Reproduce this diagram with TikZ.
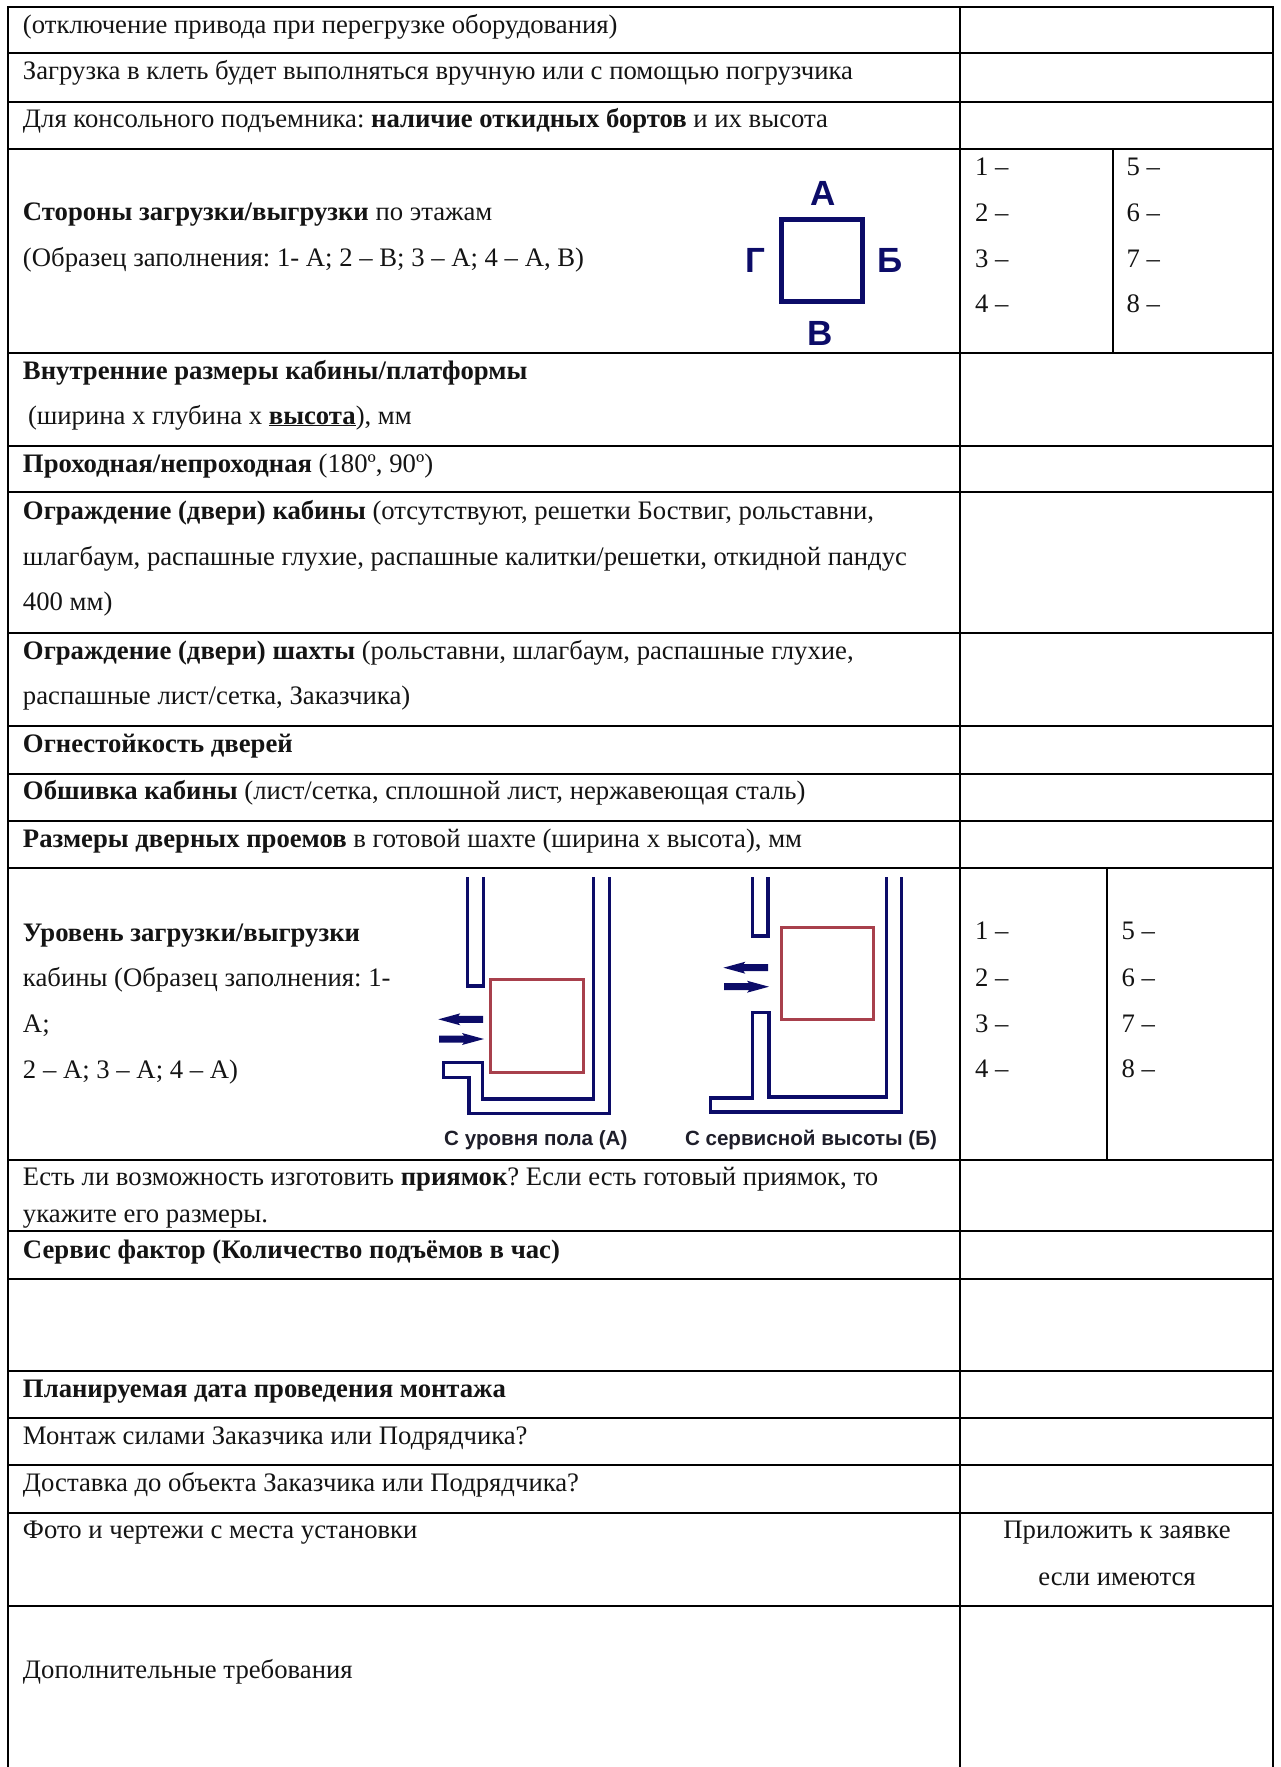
\documentclass[tikz,border=0pt]{standalone}
\usepackage{fontspec}
\setmainfont{Liberation Serif}
\newfontfamily\sansf{Liberation Sans}
\definecolor{navyline}{HTML}{0C0C68}
\definecolor{redline}{HTML}{A8404C}
\definecolor{capt}{HTML}{1E1E2A}
\tikzset{
  rule/.style={line width=2pt,line cap=rect,black},
  txt/.style={anchor=base west,yshift=-1pt,inner sep=0pt,outer sep=0pt,font=\fontsize{26.7}{27}\selectfont\frenchspacing,text=black!92},
  ctxt/.style={anchor=base,yshift=-1pt,inner sep=0pt,outer sep=0pt,font=\fontsize{26.7}{27}\selectfont\frenchspacing,text=black!92},
  sidelbl/.style={anchor=base,inner sep=0pt,outer sep=0pt,font=\sansf\bfseries\fontsize{35}{35}\selectfont,text=navyline},
  caplbl/.style={anchor=base,inner sep=0pt,outer sep=0pt,font=\sansf\bfseries\fontsize{20.6}{21}\selectfont,text=capt},
  wall/.style={line width=3.3pt,navyline,line join=miter},
  cabin/.style={line width=3.3pt,redline},
  square/.style={line width=5pt,navyline}
}
\newcommand{\larrow}[3]{% xleft xright y
  \fill[navyline] (#1,#3) -- (#1+22,#3-6) -- (#1+20,#3-3.5) -- (#2,#3-3.5) -- (#2,#3+3.5) -- (#1+20,#3+3.5) -- (#1+22,#3+6) -- cycle;}
\newcommand{\rarrow}[3]{%
  \fill[navyline] (#2,#3) -- (#2-22,#3-6) -- (#2-20,#3-3.5) -- (#1,#3-3.5) -- (#1,#3+3.5) -- (#2-20,#3+3.5) -- (#2-22,#3+6) -- cycle;}
\begin{document}
\begin{tikzpicture}[x=1pt,y=-1pt]
\useasboundingbox (0,0) rectangle (1281,1767);
% table rules
\foreach \yy in {7,53,102,148.5,353,445.7,492,633,726,773.5,821,867.6,1159.6,1231,1279,1371,1417.7,1465,1512.7,1605.7}
  \draw[rule] (8,\yy) -- (1273,\yy);
\draw[rule] (8,7) -- (8,1767);
\draw[rule] (960,7) -- (960,1767);
\draw[rule] (1273,7) -- (1273,1767);
\draw[rule] (1113,148.5) -- (1113,353);
\draw[rule] (1106.7,867.6) -- (1106.7,1159.6);
% left column text
\node[txt] (a1) at (23,32) {(отключение привода при перегрузке оборудования)};
\node[txt] (a2) at (23,78.5) {Загрузка в клеть будет выполняться вручную или с помощью погрузчика};
\node[txt] (a3) at (23,126.7) {Для консольного подъемника: \textbf{наличие откидных бортов} и их высота};
\node[txt] (a4) at (23,219) {\textbf{Стороны загрузки/выгрузки} по этажам};
\node[txt] (a5) at (23,265) {(Образец заполнения: 1- А; 2 – В; 3 – А; 4 – А, В)};
\node[txt] (a6) at (23,378) {\textbf{Внутренние размеры кабины/платформы}};
\node[txt] (a7) at (28,423) {(ширина х глубина х \underline{\textbf{высота}}), мм};
\node[txt] (a8) at (23,471) {\textbf{Проходная/непроходная} (180º, 90º)};
\node[txt] (a9) at (23,518.4) {\textbf{Ограждение (двери) кабины} (отсутствуют, решетки Боствиг, рольставни,};
\node[txt] (a10) at (23,564) {шлагбаум, распашные глухие, распашные калитки/решетки, откидной пандус};
\node[txt] (a11) at (23,609.6) {400 мм)};
\node[txt] (a12) at (23,658.5) {\textbf{Ограждение (двери) шахты} (рольставни, шлагбаум, распашные глухие,};
\node[txt] (a13) at (23,703) {распашные лист/сетка, Заказчика)};
\node[txt] (a14) at (23,751) {\textbf{Огнестойкость дверей}};
\node[txt] (a15) at (23,798) {\textbf{Обшивка кабины} (лист/сетка, сплошной лист, нержавеющая сталь)};
\node[txt] (a16) at (23,846) {\textbf{Размеры дверных проемов} в готовой шахте (ширина х высота), мм};
\node[txt] (a17) at (23,940) {\textbf{Уровень загрузки/выгрузки}};
\node[txt] (a18) at (23,985.7) {кабины (Образец заполнения: 1-};
\node[txt] (a19) at (23,1031) {А;};
\node[txt] (a20) at (23,1077) {2 – А; 3 – А; 4 – А)};
\node[txt] (a21) at (23,1184.7) {Есть ли возможность изготовить \textbf{приямок}? Если есть готовый приямок, то};
\node[txt] (a22) at (23,1221) {укажите его размеры.};
\node[txt] (a23) at (23,1257.7) {\textbf{Сервис фактор (Количество подъёмов в час)}};
\node[txt] (a24) at (23,1396) {\textbf{Планируемая дата проведения монтажа}};
\node[txt] (a25) at (23,1443) {Монтаж силами Заказчика или Подрядчика?};
\node[txt] (a26) at (23,1490) {Доставка до объекта Заказчика или Подрядчика?};
\node[txt] (a27) at (23,1537) {Фото и чертежи с места установки};
\node[txt] (a28) at (23,1677) {Дополнительные требования};
\node[ctxt] (b1) at (1117,1537) {Приложить к заявке};
\node[ctxt] (b2) at (1117,1584) {если имеются};
% numbers first block
\node[txt] (n1) at (975,174) {1 –};
\node[txt] (n2) at (975,220) {2 –};
\node[txt] (n3) at (975,266) {3 –};
\node[txt] (n4) at (975,311.7) {4 –};
\node[txt] (n5) at (1126.5,174) {5 –};
\node[txt] (n6) at (1126.5,220) {6 –};
\node[txt] (n7) at (1126.5,266) {7 –};
\node[txt] (n8) at (1126.5,311.7) {8 –};
% numbers second block
\node[txt] (m1) at (975,938.7) {1 –};
\node[txt] (m2) at (975,985) {2 –};
\node[txt] (m3) at (975,1031) {3 –};
\node[txt] (m4) at (975,1076.7) {4 –};
\node[txt] (m5) at (1121.7,938.7) {5 –};
\node[txt] (m6) at (1121.7,985) {6 –};
\node[txt] (m7) at (1121.7,1031) {7 –};
\node[txt] (m8) at (1121.7,1076.7) {8 –};
% side plan
\draw[square] (781,219) rectangle (862,301);
\node[sidelbl] (sa) at (823.5,205) {А};
\node[sidelbl] (sg) at (755.7,272.7) {Г};
\node[sidelbl] (sb) at (890,272.7) {Б};
\node[sidelbl] (sv) at (820,345) {В};
% left shaft
\draw[wall] (467.7,877) -- (467.7,986) -- (483.4,986) -- (483.4,877);
\draw[wall] (593.6,877) -- (593.6,1099) -- (482.7,1099) -- (482.7,1062.7) -- (443.2,1062.7) -- (443.2,1077.3) -- (468.9,1077.3) -- (468.9,1113.3) -- (609.3,1113.3) -- (609.3,877);
\draw[cabin] (490.7,979.3) rectangle (583.7,1072.3);
\larrow{438.3}{483}{1019.3}
\rarrow{439}{484}{1039}
\node[caplbl] (c1) at (535.8,1145) {С уровня пола (А)};
% right shaft
\draw[wall] (752.5,877) -- (752.5,936) -- (768,936) -- (768,877);
\draw[wall] (886.8,877) -- (886.8,1097) -- (768.9,1097) -- (768.9,1012.3) -- (752.5,1012.3) -- (752.5,1098) -- (710.7,1098) -- (710.7,1112) -- (901.7,1112) -- (901.7,877);
\draw[cabin] (781.5,927.3) rectangle (873.8,1019.3);
\larrow{723.4}{768}{967.7}
\rarrow{724}{769}{986.7}
\node[caplbl] (c2) at (811,1145) {С сервисной высоты (Б)};
\end{tikzpicture}
\end{document}
